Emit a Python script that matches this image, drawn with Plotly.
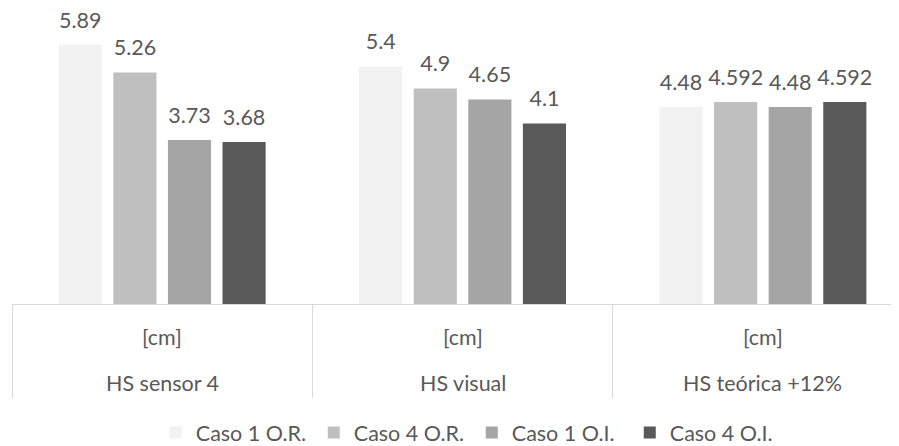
import plotly.graph_objects as go

groups = ["HS sensor 4", "HS visual", "HS teórica +12%"]
unit_label = "[cm]"
series_names = ["Caso 1 O.R.", "Caso 4 O.R.", "Caso 1 O.I.", "Caso 4 O.I."]
caso1_or = [5.89, 5.4, 4.48]
caso4_or = [5.26, 4.9, 4.592]
caso1_oi = [3.73, 4.65, 4.48]
caso4_oi = [3.68, 4.1, 4.592]
values = [caso1_or, caso4_or, caso1_oi, caso4_oi]
colors = ["#F2F2F2", "#BFBFBF", "#A5A5A5", "#595959"]

FONT = "Lato"
FS = 21.5
TXT = "#595959"
GRID = "#D9D9D9"
LABEL_LIFT = 0.21  # visual gap between bar top and its value label (data units)

fig = go.Figure()
for i, (name, vals, col) in enumerate(zip(series_names, values, colors)):
    fig.add_trace(go.Bar(
        name=name, x=groups, y=vals, offsetgroup=str(i),
        marker=dict(color=col, line=dict(width=0)),
    ))
for i, vals in enumerate(values):
    fig.add_trace(go.Bar(
        x=groups, y=vals, base=LABEL_LIFT, offsetgroup=str(i),
        marker=dict(color="rgba(0,0,0,0)", line=dict(width=0)),
        text=[str(v) for v in vals], textposition="outside",
        constraintext="none", cliponaxis=False,
        textfont=dict(family=FONT, size=FS, color=TXT),
        showlegend=False, hoverinfo="skip",
    ))

annotations = []
for g in groups:
    annotations.append(dict(x=g, xref="x", y=0, yref="paper", yanchor="middle",
                            yshift=-33, text=unit_label, showarrow=False,
                            font=dict(family=FONT, size=FS, color=TXT)))
    annotations.append(dict(x=g, xref="x", y=0, yref="paper", yanchor="middle",
                            yshift=-79, text=g, showarrow=False,
                            font=dict(family=FONT, size=FS, color=TXT)))

fig.update_layout(
    width=891, height=438,
    margin=dict(l=4, r=0, t=0, b=142, autoexpand=False),
    paper_bgcolor="white", plot_bgcolor="white",
    barmode="group", bargap=0.273, bargroupgap=0.21,
    font=dict(family=FONT, size=FS, color=TXT),
    showlegend=True,
    legend=dict(orientation="h", xref="container", yref="container",
                x=0.5205, y=0.031, xanchor="center", yanchor="middle",
                font=dict(family=FONT, size=FS, color=TXT),
                entrywidth=113, entrywidthmode="pixels",
                traceorder="normal"),
    annotations=annotations,
)
fig.update_xaxes(
    type="category", range=[-0.5, 2.453],
    showline=True, linecolor=GRID, linewidth=1,
    showgrid=False, ticks="outside", tickson="boundaries",
    ticklen=93, tickcolor=GRID, tickwidth=1,
    showticklabels=False,
)
fig.update_yaxes(range=[0, 296 / 44], visible=False, showgrid=False)

fig.write_html("out.html")
